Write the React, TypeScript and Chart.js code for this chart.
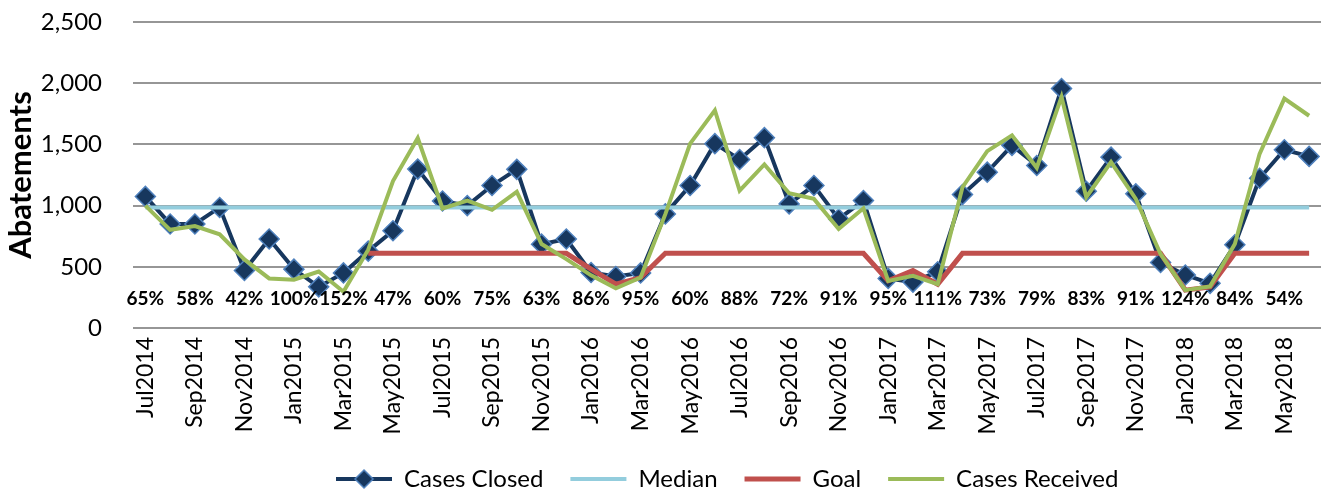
import React, { useEffect, useRef } from 'react';
import { Chart, registerables } from 'chart.js';

Chart.register(...registerables);

const MONTHS = [
  'Jul2014', 'Aug2014', 'Sep2014', 'Oct2014', 'Nov2014', 'Dec2014',
  'Jan2015', 'Feb2015', 'Mar2015', 'Apr2015', 'May2015', 'Jun2015',
  'Jul2015', 'Aug2015', 'Sep2015', 'Oct2015', 'Nov2015', 'Dec2015',
  'Jan2016', 'Feb2016', 'Mar2016', 'Apr2016', 'May2016', 'Jun2016',
  'Jul2016', 'Aug2016', 'Sep2016', 'Oct2016', 'Nov2016', 'Dec2016',
  'Jan2017', 'Feb2017', 'Mar2017', 'Apr2017', 'May2017', 'Jun2017',
  'Jul2017', 'Aug2017', 'Sep2017', 'Oct2017', 'Nov2017', 'Dec2017',
  'Jan2018', 'Feb2018', 'Mar2018', 'Apr2018', 'May2018', 'Jun2018',
];

const CASES_CLOSED = [
  1075, 850, 850, 985, 470, 727,
  481, 336, 450, 628, 795, 1298,
  1038, 1000, 1164, 1296, 685, 727,
  453, 420, 450, 932, 1164, 1506,
  1377, 1555, 1014, 1164, 891, 1041,
  405, 375, 460, 1090, 1273, 1492,
  1328, 1956, 1117, 1396, 1096, 535,
  433, 365, 680, 1223, 1456, 1402,
];

const MEDIAN = [
  985, 985, 985, 985, 985, 985,
  985, 985, 985, 985, 985, 985,
  985, 985, 985, 985, 985, 985,
  985, 985, 985, 985, 985, 985,
  985, 985, 985, 985, 985, 985,
  985, 985, 985, 985, 985, 985,
  985, 985, 985, 985, 985, 985,
  985, 985, 985, 985, 985, 985,
];

const GOAL = [
  null, null, null, null, null, null,
  null, null, null, 610, 610, 610,
  610, 610, 610, 610, 610, 610,
  481, 358, 412, 610, 610, 610,
  610, 610, 610, 610, 610, 610,
  385, 470, 358, 610, 610, 610,
  610, 610, 610, 610, 610, 610,
  309, 336, 610, 610, 610, 610,
];

const CASES_RECEIVED = [
  1000, 802, 833, 765, 560, 405,
  395, 461, 296, 640, 1200, 1552,
  977, 1041, 966, 1113, 686, 563,
  430, 325, 412, 930, 1506, 1779,
  1123, 1336, 1101, 1055, 809, 978,
  385, 426, 358, 1150, 1445, 1574,
  1309, 1888, 1068, 1355, 1055, 605,
  309, 340, 686, 1423, 1874, 1734,
];

// closure-rate labels shown under every other month
const PERCENT_LABELS = [
  '65%', '58%', '42%', '100%', '152%', '47%', '60%', '75%',
  '63%', '86%', '95%', '60%', '88%', '72%', '91%', '95%',
  '111%', '73%', '79%', '83%', '91%', '124%', '84%', '54%',
];
const PERCENT_LEVEL = 238;

const Y_MIN = 0;
const Y_MAX = 2500;
const Y_STEP = 500;

const FONT = 'Lato, "Noto Sans", sans-serif';
const NAVY = '#17375E';
const NAVY_EDGE = '#4F81BD';
const MEDIAN_COLOR = '#93CDDD';
const GOAL_COLOR = '#C0504D';
const RECEIVED_COLOR = '#9BBB59';

function makeClosedIcon(): HTMLCanvasElement {
  const c = document.createElement('canvas');
  c.width = 56;
  c.height = 24;
  const g = c.getContext('2d')!;
  g.strokeStyle = NAVY;
  g.lineWidth = 4;
  g.beginPath();
  g.moveTo(0, 12);
  g.lineTo(56, 12);
  g.stroke();
  g.beginPath();
  g.moveTo(28 - 9, 12);
  g.lineTo(28, 3);
  g.lineTo(28 + 9, 12);
  g.lineTo(28, 21);
  g.closePath();
  g.fillStyle = NAVY;
  g.fill();
  g.lineWidth = 1.5;
  g.strokeStyle = NAVY_EDGE;
  g.stroke();
  return c;
}

export default function App() {
  const ref = useRef<HTMLCanvasElement | null>(null);

  useEffect(() => {
    if (!ref.current) return;
    const closedIcon = makeClosedIcon();

    const pctPlugin = {
      id: 'pctLabels',
      afterDatasetsDraw(chart: any) {
        const { ctx, scales } = chart;
        const x = scales.x;
        const y = scales.y;
        ctx.save();
        ctx.font = `bold 19px ${FONT}`;
        ctx.fillStyle = '#000';
        ctx.textAlign = 'center';
        ctx.textBaseline = 'middle';
        PERCENT_LABELS.forEach((t, i) => {
          ctx.fillText(t, x.getPixelForValue(i * 2), y.getPixelForValue(PERCENT_LEVEL));
        });
        ctx.restore();
      },
    };

    const legendShift = {
      id: 'legendShift',
      afterLayout(chart: any) {
        const lg = chart.legend;
        if (!lg) return;
        const ca = chart.chartArea;
        const dx = (ca.left + ca.right) / 2 - (lg.left + lg.right) / 2;
        lg.left += dx;
        lg.right += dx;
      },
    };

    const colors = [NAVY, MEDIAN_COLOR, GOAL_COLOR, RECEIVED_COLOR];

    const chart = new Chart(ref.current, {
      type: 'line',
      data: {
        labels: MONTHS,
        datasets: [
          {
            label: 'Cases Closed',
            data: CASES_CLOSED,
            borderColor: NAVY,
            backgroundColor: NAVY,
            borderWidth: 4,
            pointStyle: 'rectRot',
            pointRadius: 10,
            pointBorderWidth: 1.5,
            pointBackgroundColor: NAVY,
            pointBorderColor: NAVY_EDGE,
            tension: 0,
            order: 3,
          },
          {
            label: 'Median',
            data: MEDIAN,
            borderColor: MEDIAN_COLOR,
            backgroundColor: MEDIAN_COLOR,
            borderWidth: 4,
            pointRadius: 0,
            tension: 0,
            order: 2,
          },
          {
            label: 'Goal',
            data: GOAL,
            borderColor: GOAL_COLOR,
            backgroundColor: GOAL_COLOR,
            borderWidth: 5,
            pointRadius: 0,
            tension: 0,
            order: 1,
          },
          {
            label: 'Cases Received',
            data: CASES_RECEIVED,
            borderColor: RECEIVED_COLOR,
            backgroundColor: RECEIVED_COLOR,
            borderWidth: 4,
            pointRadius: 0,
            tension: 0,
            order: 0,
          },
        ],
      },
      options: {
        animation: false,
        responsive: false,
        devicePixelRatio: 1,
        layout: { padding: { top: 22, right: 1, left: 0, bottom: 0 } },
        scales: {
          x: {
            type: 'category',
            offset: true,
            grid: { display: false, drawTicks: true, tickLength: 9, tickColor: 'rgba(0,0,0,0)' },
            border: { display: false },
            ticks: {
              autoSkip: false,
              minRotation: 90,
              maxRotation: 90,
              padding: 0,
              color: '#000',
              font: { family: FONT, size: 23 },
              callback: (_v: any, i: number) => (i % 2 === 0 ? MONTHS[i] : ''),
            },
            afterFit: (s: any) => {
              s.height = 112;
              s.paddingLeft = 0;
              s.paddingRight = 0;
            },
          },
          y: {
            min: Y_MIN,
            max: Y_MAX,
            grid: { color: '#969696', lineWidth: 2, drawTicks: true, tickLength: 31, tickColor: 'rgba(0,0,0,0)' },
            border: { display: false },
            ticks: {
              stepSize: Y_STEP,
              padding: 0,
              color: '#000',
              font: { family: FONT, size: 24 },
              callback: (v: any) => Number(v).toLocaleString('en-US'),
            },
            title: {
              display: true,
              text: 'Abatements',
              color: '#000',
              font: { family: FONT, size: 31, weight: 'bold' },
              padding: { top: 2, bottom: 0 },
            },
            afterFit: (s: any) => {
              s.width = 133;
            },
          },
        },
        plugins: {
          tooltip: { enabled: false },
          legend: {
            position: 'bottom',
            labels: {
              usePointStyle: true,
              pointStyleWidth: 56,
              padding: 27,
              color: '#000',
              font: { family: FONT, size: 24 },
              generateLabels: (ch: any) => {
                const items = (Chart.defaults.plugins.legend.labels as any).generateLabels(ch);
                items.sort((a: any, b: any) => a.datasetIndex - b.datasetIndex);
                return items.map((it: any) => ({
                  ...it,
                  pointStyle: it.datasetIndex === 0 ? closedIcon : 'line',
                  strokeStyle: colors[it.datasetIndex],
                  fillStyle: colors[it.datasetIndex],
                  lineWidth: it.datasetIndex === 2 ? 5 : 4,
                  fontColor: '#000',
                }));
              },
            },
          },
        },
      } as any,
      plugins: [pctPlugin, legendShift],
    });

    return () => {
      chart.destroy();
    };
  }, []);

  return (
    <div
      style={{
        position: 'fixed',
        left: 0,
        top: 0,
        width: 1321,
        height: 494,
        overflow: 'hidden',
        background: '#fff',
      }}
    >
      <canvas ref={ref} width={1333} height={501} style={{ display: 'block' }} />
    </div>
  );
}
